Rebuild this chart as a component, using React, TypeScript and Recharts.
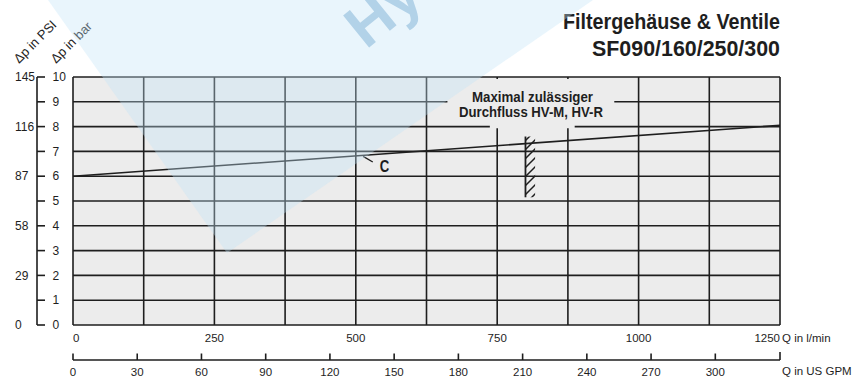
import React from 'react';
import {
  LineChart,
  Line,
  XAxis,
  YAxis,
  CartesianGrid,
  ReferenceArea,
  ReferenceLine,
} from 'recharts';

// ---- data ----
const flowLpm = [0, 1250];
const dpBarC = [6.0, 8.05];
const qGridTicks = [0, 125, 250, 375, 500, 625, 750, 875, 1000, 1125, 1250];
const qLabelTicks = [0, 250, 500, 750, 1000, 1250];
const gpmTicks = [0, 30, 60, 90, 120, 150, 180, 210, 240, 270, 300];
const LPM_PER_GPM = 3.7854;
const Q_MAX = 1250;
const barTicks = [0, 1, 2, 3, 4, 5, 6, 7, 8, 9, 10];
const psiTicks = [0, 29, 58, 87, 116, 145];
const maxFlowQ = [800, 817];
const maxFlowDp = [5.15, 7.6];
const leaderQ = [513, 530];
const leaderDp = [6.8, 6.57];

const data = flowLpm.map((q, i) => ({ q, dp: dpBarC[i] }));
// US GPM ticks expressed in l/min so that the same flow scale places them
const gpmTickPositions = [...gpmTicks.map((g) => g * LPM_PER_GPM), Q_MAX];

const SANS = "'Liberation Sans', Arial, Helvetica, sans-serif";
const INK = '#1e1e1e';
const PLOT_BG = '#ececec';

const BarTick = (props: any) => {
  const { x, y, payload } = props;
  return (
    <g>
      <line x1={x - 36} x2={x - 28} y1={y} y2={y} stroke={INK} strokeWidth={1.6} />
      <text x={x - 20.5} y={y} dy={4.2} textAnchor="start" fontFamily={SANS} fontSize={12} fill={INK}>
        {payload.value}
      </text>
    </g>
  );
};

const PsiTick = (props: any) => {
  const { y, payload } = props;
  return (
    <text x={15} y={y} dy={4.2} textAnchor="start" fontFamily={SANS} fontSize={12} fill={INK}>
      {payload.value}
    </text>
  );
};

const QTick = (props: any) => {
  const { x, y, payload } = props;
  const v = payload.value;
  if (!qLabelTicks.includes(v)) return <g />;
  const anchor = v === qLabelTicks[0] ? 'start' : v === qLabelTicks[qLabelTicks.length - 1] ? 'end' : 'middle';
  return (
    <text x={x} y={y + 16.7} textAnchor={anchor} fontFamily={SANS} fontSize={11.5} fill={INK}>
      {v}
    </text>
  );
};

const GpmTick = (props: any) => {
  const { x, y, payload } = props;
  const v = payload.value;
  const isEnd = v === Q_MAX;
  return (
    <g>
      <line x1={x} x2={x} y1={y} y2={y - (isEnd ? 8 : 6.5)} stroke={INK} strokeWidth={1.6} />
      {!isEnd && (
        <text x={x} y={y + 16} textAnchor="middle" fontFamily={SANS} fontSize={11.5} fill={INK}>
          {Math.round(v / LPM_PER_GPM)}
        </text>
      )}
    </g>
  );
};

const Overlay = () => (
  <svg
    width={853}
    height={381}
    style={{ position: 'absolute', left: 0, top: 0, pointerEvents: 'none' }}
  >
    {/* titles */}
    <text x={563} y={29} textLength={217} lengthAdjust="spacingAndGlyphs" fontFamily={SANS} fontWeight="bold" fontSize={22} fill={INK}>
      Filtergehäuse &amp; Ventile
    </text>
    <text x={592} y={56} textLength={188} lengthAdjust="spacingAndGlyphs" fontFamily={SANS} fontWeight="bold" fontSize={22} fill={INK}>
      SF090/160/250/300
    </text>
    {/* axis titles */}
    <text x={19} y={64} transform="rotate(-45 19 64)" fontFamily={SANS} fontSize={13} fill={INK}>
      Δp in PSI
    </text>
    <text x={56} y={64} transform="rotate(-45 56 64)" fontFamily={SANS} fontSize={13} fill={INK}>
      Δp in bar
    </text>
    <text x={782} y={342} fontFamily={SANS} fontSize={11.5} fill={INK}>Q in l/min</text>
    <text x={782} y={374.5} fontFamily={SANS} fontSize={11.5} fill={INK}>Q in US GPM</text>
    {/* annotation */}
    <text x={472} y={101.5} textLength={121} lengthAdjust="spacingAndGlyphs" fontFamily={SANS} fontWeight="bold" fontSize={15.5} fill={INK}>
      Maximal zulässiger
    </text>
    <text x={459} y={116.7} textLength={144} lengthAdjust="spacingAndGlyphs" fontFamily={SANS} fontWeight="bold" fontSize={15.5} fill={INK}>
      Durchfluss HV-M, HV-R
    </text>
    <text x={384.5} y={172} textAnchor="middle" textLength={9.5} lengthAdjust="spacingAndGlyphs" fontFamily={SANS} fontWeight="bold" fontSize={16} fill={INK}>
      C
    </text>
    {/* watermark */}
    <polygon points="48,0 593,0 227,253" fill="rgb(194,228,247)" fillOpacity={0.36} />
    <text x={366} y={50} transform="rotate(-39 366 50)" fontFamily={SANS} fontWeight="bold" fontSize={60} fill="#b2d2e8">
      Hydac
    </text>
  </svg>
);

export default function App() {
  return (
    <div style={{ position: 'absolute', left: 0, top: 0, width: 853, height: 381, background: '#fff' }}>
      <LineChart width={853} height={381} data={data} margin={{ top: 77, right: 73, bottom: 0, left: 0 }}>
        <defs>
          <pattern id="hatch" patternUnits="userSpaceOnUse" width={9} height={9}>
            <path d="M0,9 L9,0 M-2,2 L2,-2 M7,11 L11,7" stroke={INK} strokeWidth={1.5} />
          </pattern>
        </defs>
        <XAxis
          xAxisId="lpm"
          dataKey="q"
          type="number"
          domain={[0, Q_MAX]}
          ticks={qGridTicks}
          interval={0}
          height={35}
          axisLine={false}
          tickLine={false}
          tickSize={0}
          tickMargin={0}
          tick={<QTick />}
          allowDataOverflow
        />
        <XAxis
          xAxisId="usgpm"
          dataKey="q"
          type="number"
          domain={[0, Q_MAX]}
          ticks={gpmTickPositions}
          interval={0}
          height={21}
          axisLine={{ stroke: INK, strokeWidth: 1.6 }}
          tickLine={false}
          tickSize={0}
          tickMargin={0}
          tick={<GpmTick />}
          allowDataOverflow
        />
        <YAxis
          yAxisId="bar"
          type="number"
          domain={[0, 10]}
          ticks={barTicks}
          interval={0}
          width={36}
          axisLine={false}
          tickLine={false}
          tickSize={0}
          tickMargin={0}
          tick={<BarTick />}
          allowDataOverflow
        />
        <YAxis
          yAxisId="psi"
          type="number"
          domain={[0, 145]}
          ticks={psiTicks}
          interval={0}
          width={37}
          axisLine={{ stroke: INK, strokeWidth: 1.6 }}
          tickLine={false}
          tickSize={0}
          tickMargin={0}
          tick={<PsiTick />}
          allowDataOverflow
        />
        <CartesianGrid
          xAxisId="lpm"
          yAxisId="bar"
          stroke={INK}
          strokeWidth={1.6}
          fill={PLOT_BG}
          fillOpacity={1}
        />
        {/* blank area behind annotation text */}
        <ReferenceArea xAxisId="lpm" yAxisId="bar" x1={662} x2={957} y1={8.5} y2={9.92} fill={PLOT_BG} fillOpacity={1} stroke="none" />
        <ReferenceArea xAxisId="lpm" yAxisId="bar" x1={737} x2={887} y1={7.93} y2={8.6} fill={PLOT_BG} fillOpacity={1} stroke="none" />
        {/* hatched max-flow mark */}
        <ReferenceArea
          xAxisId="lpm"
          yAxisId="bar"
          x1={maxFlowQ[0]}
          x2={maxFlowQ[1]}
          y1={maxFlowDp[0]}
          y2={maxFlowDp[1]}
          fill="url(#hatch)"
          fillOpacity={1}
          stroke="none"
        />
        <ReferenceLine
          xAxisId="lpm"
          yAxisId="bar"
          segment={[{ x: maxFlowQ[0], y: maxFlowDp[0] }, { x: maxFlowQ[0], y: maxFlowDp[1] }]}
          stroke={INK}
          strokeWidth={1.8}
        />
        <ReferenceLine
          xAxisId="lpm"
          yAxisId="bar"
          segment={[{ x: leaderQ[0], y: leaderDp[0] }, { x: leaderQ[1], y: leaderDp[1] }]}
          stroke={INK}
          strokeWidth={1.3}
        />
        <Line
          xAxisId="lpm"
          yAxisId="bar"
          type="linear"
          dataKey="dp"
          stroke={INK}
          strokeWidth={1.6}
          dot={false}
          activeDot={false}
          isAnimationActive={false}
        />
      </LineChart>
      <Overlay />
    </div>
  );
}
